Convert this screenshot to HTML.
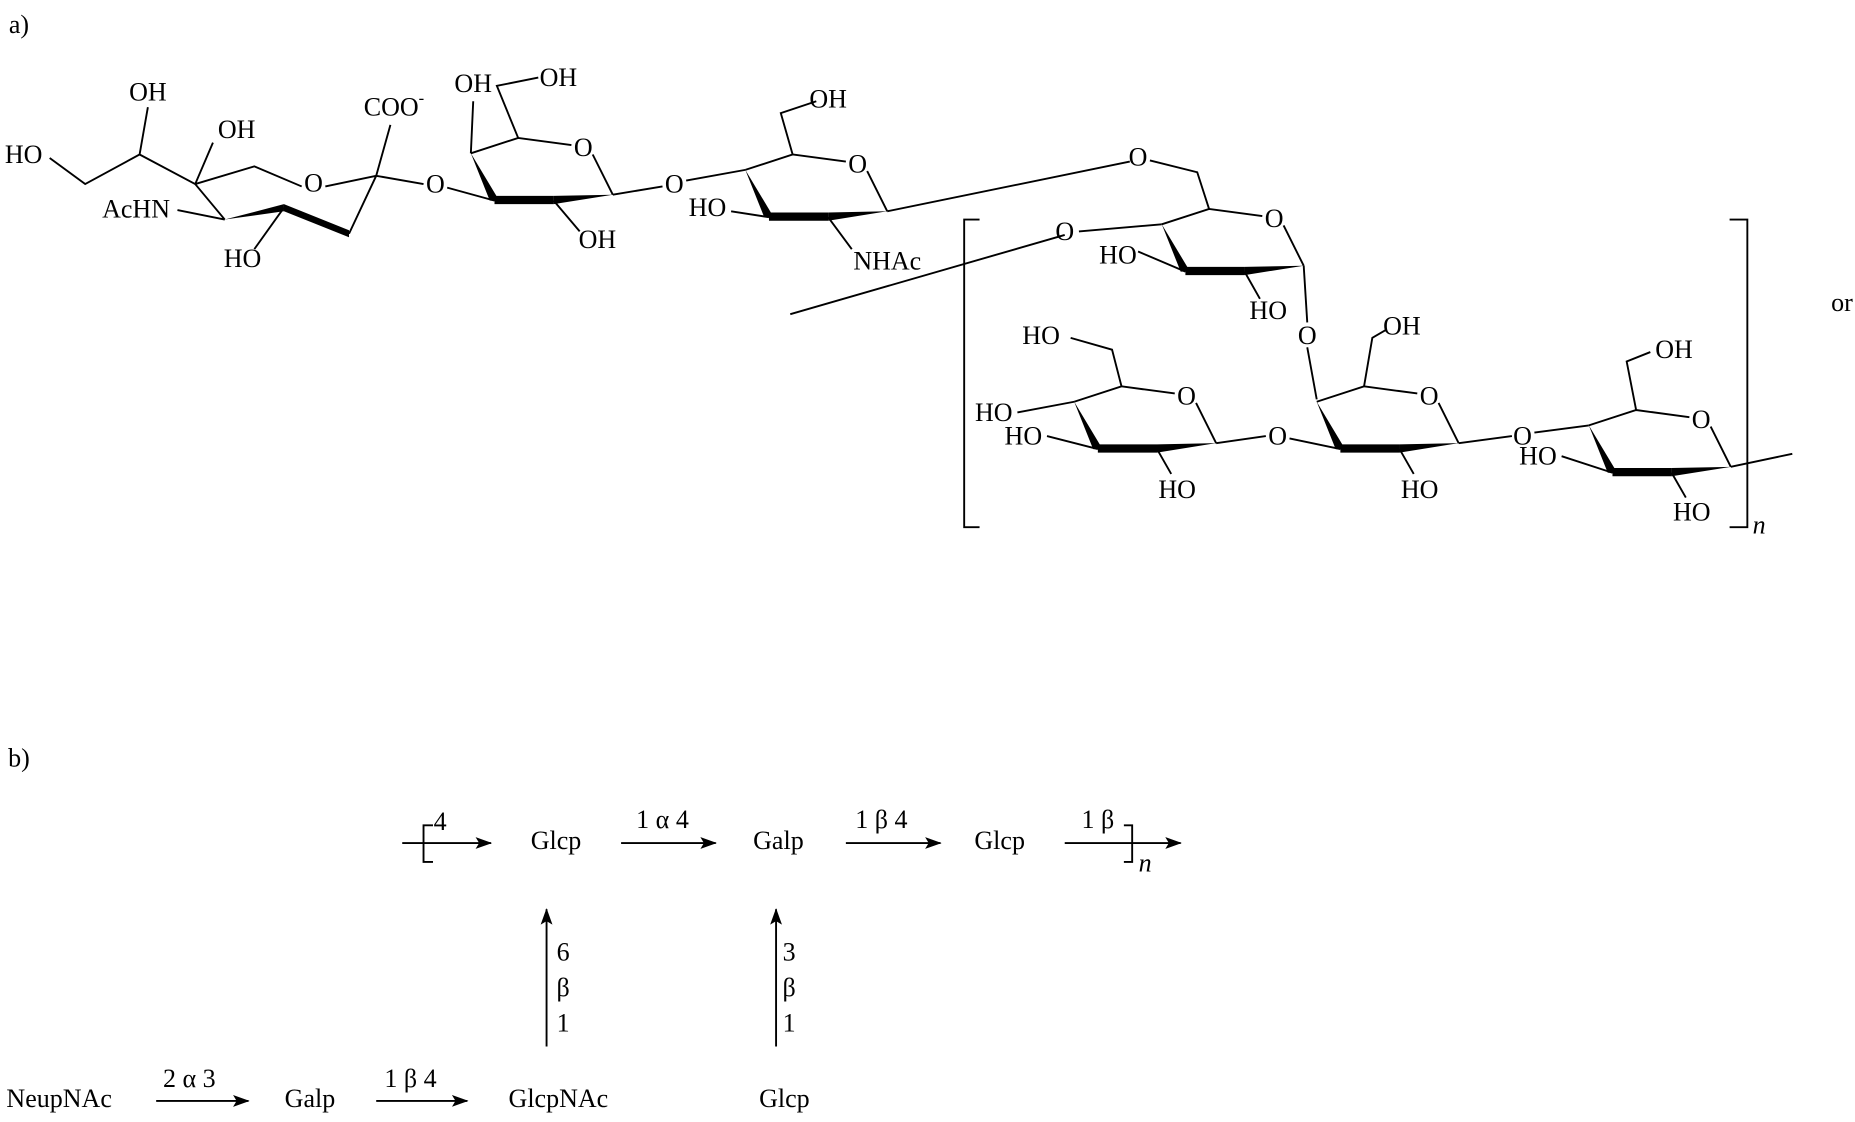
<!DOCTYPE html>
<html><head><meta charset="utf-8"><style>
html,body{margin:0;padding:0;background:#fff}
svg text{font-family:"Liberation Serif",serif;font-size:22px;fill:#000;text-anchor:middle;dominant-baseline:central}
</style></head><body>
<svg width="1855" height="1117" viewBox="0 0 1568 943" xmlns="http://www.w3.org/2000/svg">
<defs>
<marker id="ah" markerWidth="14" markerHeight="10" refX="13" refY="5" orient="auto" markerUnits="userSpaceOnUse"><path d="M0,0 L14,5 L0,10 L3,5 Z" fill="#000"/></marker>
<g id="ring">
<path d="M-95,5 L-55,-8 L-10,-2 M8,6 L25,40" stroke="#000" stroke-width="1.6" fill="none"/>
<polygon points="25,40 -25,41 -25,48" fill="#000"/>
<polygon points="-25,41 -75,41 -75,48 -25,48" fill="#000"/>
<polygon points="-79,45 -71,45 -95,5" fill="#000"/>
</g>
</defs>
<g stroke="#000" stroke-width="1.6" fill="none">
<path d="M42,133 L72,155 L118,130 L125,90 M118,130 L165,155 L180,120 M165,155 L215,140 L255,157 M275,157 L318,148 L330,105 M150,177 L190,185 M165,155 L190,185 M240,175 L215,210 M318,148 L295,197 M318,148 L358,155"/>
<path d="M398,129 L400,85 M438,116 L420,72 L455,65 M418,169 L378,158 M468,169 L490,195 M518,164 L560,157"/>
<path d="M670,130 L660,95 L690,85 M580,152 L630,143 M618,178 L650,183 M700,183 L720,210 M750,178 L955,136"/>
<path d="M1022,176 L1012,145 L972,135 M912,195 L982,189 M962,212 L1002,229 M1052,229 L1065,252 M1102,224 L1105,272 M1105,293 L1113,337 M900,198 L668,265"/>
<path d="M1153,326 L1160,285 L1172,278 M1133,379 L1090,370 M1183,379 L1195,400 M1233,374 L1278,368"/>
<path d="M948,326 L940,295 L905,285 M860,348 L908,339 M885,368 L928,379 M978,379 L990,400 M1028,374 L1070,368"/>
<path d="M1383,346 L1375,305 L1395,297 M1297,365 L1343,359 M1320,385 L1363,399 M1413,399 L1425,420 M1463,394 L1515,383"/>
<path d="M828,185 L815,185 L815,445 L828,445 M1462,185 L1477,185 L1477,445 L1462,445"/>
</g>
<polygon points="190,185 240,172 240,178" fill="#000"/>
<polygon points="240,172 295,194 295,200 240,178" fill="#000"/>
<use href="#ring" x="493" y="124"/>
<use href="#ring" x="725" y="138"/>
<use href="#ring" x="1077" y="184"/>
<use href="#ring" x="1208" y="334"/>
<use href="#ring" x="1003" y="334"/>
<use href="#ring" x="1438" y="354"/>
<g>
<text x="16" y="20">a)</text>
<text x="20" y="130">HO</text>
<text x="125" y="77">OH</text>
<text x="200" y="109">OH</text>
<text x="115" y="176">AcHN</text>
<text x="265" y="154">O</text>
<text x="205" y="218">HO</text>
<text x="333" y="90">COO<tspan dy="-8" font-size="14">-</tspan></text>
<text x="368" y="155">O</text>
<text x="400" y="70">OH</text>
<text x="472" y="65">OH</text>
<text x="493" y="124">O</text>
<text x="505" y="202">OH</text>
<text x="570" y="155">O</text>
<text x="700" y="83">OH</text>
<text x="725" y="138">O</text>
<text x="598" y="175">HO</text>
<text x="750" y="220">NHAc</text>
<text x="962" y="132">O</text>
<text x="900" y="195">O</text>
<text x="945" y="215">HO</text>
<text x="1077" y="184">O</text>
<text x="1072" y="262">HO</text>
<text x="1105" y="283">O</text>
<text x="1185" y="275">OH</text>
<text x="1208" y="334">O</text>
<text x="1080" y="368">O</text>
<text x="1200" y="413">HO</text>
<text x="1287" y="368">O</text>
<text x="880" y="283">HO</text>
<text x="1003" y="334">O</text>
<text x="840" y="348">HO</text>
<text x="865" y="368">HO</text>
<text x="995" y="413">HO</text>
<text x="1415" y="295">OH</text>
<text x="1438" y="354">O</text>
<text x="1300" y="385">HO</text>
<text x="1430" y="432">HO</text>
<text x="1487" y="443" font-style="italic" font-size="15">n</text>
<text x="1557" y="255">or</text>
</g>
<g stroke="#000" stroke-width="1.6" fill="none">
<path d="M340,712 L415,712" marker-end="url(#ah)"/>
<path d="M366,697 L358,697 L358,728 L366,728"/>
<path d="M525,712 L605,712" marker-end="url(#ah)"/>
<path d="M715,712 L795,712" marker-end="url(#ah)"/>
<path d="M900,712 L998,712" marker-end="url(#ah)"/>
<path d="M950,697 L957,697 L957,728 L950,728"/>
<path d="M462,884 L462,768" marker-end="url(#ah)"/>
<path d="M656,884 L656,768" marker-end="url(#ah)"/>
<path d="M132,930 L210,930" marker-end="url(#ah)"/>
<path d="M318,930 L395,930" marker-end="url(#ah)"/>
</g>
<g>
<text x="16" y="640">b)</text>
<text x="372" y="694">4</text>
<text x="470" y="710">Glcp</text>
<text x="560" y="692">1 α 4</text>
<text x="658" y="710">Galp</text>
<text x="745" y="692">1 β 4</text>
<text x="845" y="710">Glcp</text>
<text x="928" y="692">1 β</text>
<text x="968" y="729" font-style="italic" font-size="15">n</text>
<text x="476" y="804">6</text>
<text x="476" y="834">β</text>
<text x="476" y="864">1</text>
<text x="667" y="804">3</text>
<text x="667" y="834">β</text>
<text x="667" y="864">1</text>
<text x="50" y="928">NeupNAc</text>
<text x="160" y="911">2 α 3</text>
<text x="262" y="928">Galp</text>
<text x="347" y="911">1 β 4</text>
<text x="472" y="928">GlcpNAc</text>
<text x="663" y="928">Glcp</text>
</g>
</svg>
</body></html>
